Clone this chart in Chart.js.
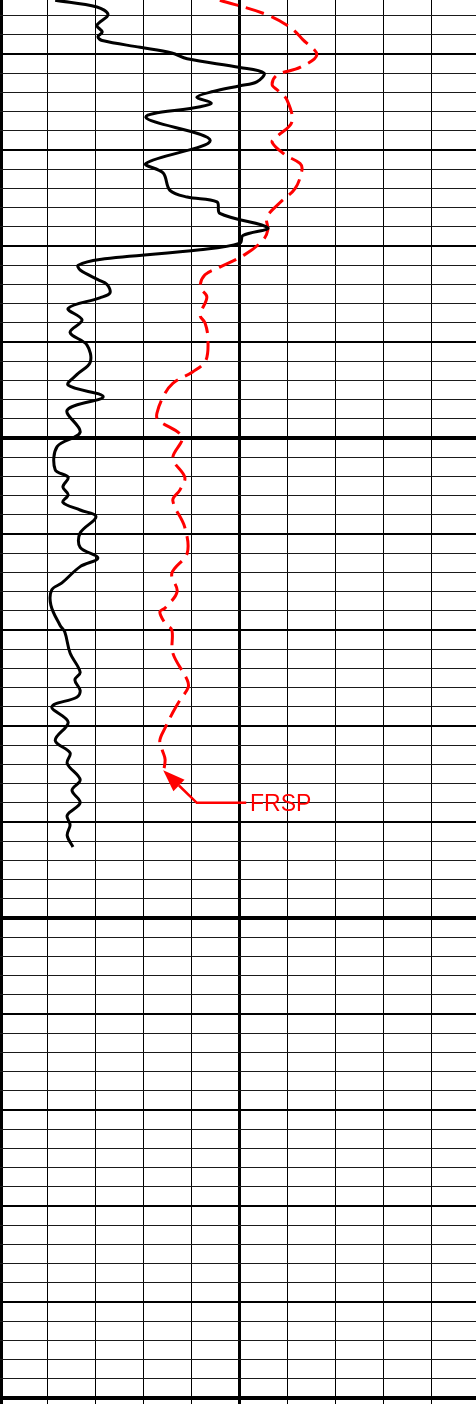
<!DOCTYPE html>
<html>
<head>
<meta charset="utf-8">
<script src="https://cdn.jsdelivr.net/npm/chart.js@4.4.1/dist/chart.umd.min.js"></script>
<style>
  html, body { margin: 0; padding: 0; background: #fff; overflow: hidden; }
  #wrap { position: relative; width: 476px; height: 1404px; }
</style>
</head>
<body>
<div id="wrap"><canvas id="logChart"></canvas></div>
<script>
// --- escalas del registro (track) ---
const X_MIN = 0;
const X_MAX = 99.17;          // la pista se corta un poco antes de 100
const X_STEP = 10;
const DEPTH_TOP = 5004.375;
const DEPTH_BOTTOM = 5150.625;
const DEPTH_STEP = 2;

// --- curva negra (sólida) ---
const blackDepth = [
  5004.4, 5005.1, 5005.9, 5007.0, 5007.7, 5008.2, 5008.6, 5009.3, 5009.9, 5010.5,
  5011.4, 5012.0, 5012.9, 5013.3, 5013.9, 5014.5, 5015.1, 5015.5, 5016.6, 5019.0,
  5021.4, 5022.4, 5024.2, 5024.9, 5025.4, 5026.6, 5028.1, 5028.9, 5029.7, 5030.4,
  5031.4, 5032.0, 5032.5, 5033.5, 5034.0, 5034.9, 5035.4, 5036.5, 5037.7, 5039.0,
  5040.3, 5042.1, 5043.4, 5044.5, 5045.7, 5047.1, 5049.4, 5050.9, 5053.3, 5054.1,
  5055.1, 5055.9, 5056.7, 5057.5, 5058.2, 5059.9, 5061.4, 5062.5, 5063.4, 5065.1,
  5065.8, 5067.4, 5069.5, 5070.2, 5072.4, 5074.4, 5075.2, 5076.3, 5077.0, 5078.0,
  5079.6, 5081.5, 5082.8, 5083.9, 5085.6, 5086.7, 5088.0, 5089.3, 5090.3, 5091.4,
  5092.6
];
const blackValues = [
  11.5, 20.2, 22.5, 20.2, 21.3, 20.4, 21.3, 29.2, 35.8, 39.0,
  50.0, 55.0, 53.5, 50.0, 44.4, 41.0, 44.0, 41.7, 30.4, 43.8,
  30.4, 34.0, 35.4, 39.0, 45.2, 45.8, 55.8, 50.6, 50.0, 41.7,
  20.8, 16.3, 16.7, 20.4, 22.3, 22.9, 20.8, 14.2, 17.1, 14.6,
  18.1, 18.8, 16.0, 14.2, 21.5, 14.0, 16.7, 11.9, 11.5, 14.2,
  13.1, 14.2, 13.1, 16.7, 20.0, 16.7, 16.7, 20.4, 16.7, 12.9,
  10.8, 10.6, 12.5, 13.5, 14.6, 16.7, 15.6, 16.7, 16.0, 10.8,
  14.2, 11.5, 14.6, 14.0, 16.7, 15.0, 16.7, 14.0, 14.6, 14.0,
  15.2
];

// --- curva roja FRSP (discontinua) ---
const frspDepth = [
  5004.4, 5005.9, 5007.2, 5008.5, 5010.1, 5011.4, 5012.2, 5013.2, 5013.8, 5014.8,
  5017.1, 5018.6, 5019.2, 5020.5, 5021.4, 5022.1, 5024.0, 5025.5, 5027.0, 5028.3,
  5029.4, 5030.9, 5032.2, 5033.0, 5034.3, 5035.3, 5037.2, 5038.0, 5039.5, 5041.9,
  5043.1, 5044.3, 5045.7, 5047.4, 5048.1, 5049.9, 5052.1, 5054.1, 5055.4, 5056.5,
  5059.3, 5062.0, 5064.1, 5066.0, 5067.7, 5068.1, 5069.3, 5070.0, 5072.4, 5075.2,
  5076.0, 5077.3, 5078.6, 5080.2, 5081.5, 5082.5, 5083.5, 5084.9
];
const frspValues = [
  45.8, 55.6, 60.4, 63.1, 66.0, 62.5, 57.7, 56.7, 57.9, 59.8,
  60.8, 57.7, 56.7, 59.4, 62.5, 62.9, 61.5, 58.3, 55.6, 55.8,
  54.8, 51.0, 45.8, 42.7, 41.7, 43.1, 41.7, 42.7, 43.3, 42.9,
  40.2, 36.0, 34.0, 32.7, 32.9, 37.9, 36.0, 38.5, 37.5, 36.0,
  38.5, 39.0, 35.8, 36.9, 34.4, 33.3, 34.4, 35.8, 36.0, 39.0,
  39.2, 37.5, 36.0, 34.4, 33.3, 33.8, 34.4, 34.0
];

// --- flecha y etiqueta ---
const arrowX = [51.3, 41.0, 34.0];          // extremo, codo, punta
const arrowDepth = [5088.0, 5088.0, 5084.6];
const labelText = 'FRSP';
const labelX = 52.1;
const labelDepth = 5088.4;

function toPoints(xs, ds) {
    return xs.map((v, i) => ({ x: v, y: ds[i] }));
}

function stepTicks(min, max, step) {
    const out = [];
    for (let v = Math.ceil(min / step) * step; v <= max + 1e-9; v += step) {
        out.push({ value: Math.round(v * 1000) / 1000 });
    }
    return out;
}

// --- plugin: flecha roja con texto ---
const arrowPlugin = {
    id: 'frspArrow',
    afterDatasetsDraw(chart) {
        const { ctx, scales: { x, y } } = chart;
        const px = arrowX.map(v => x.getPixelForValue(v));
        const py = arrowDepth.map(v => y.getPixelForValue(v));
        const tipX = px[2], tipY = py[2];
        const ang = Math.atan2(tipY - py[1], tipX - px[1]);
        const headLen = 22, headW = 8;
        const baseX = tipX - Math.cos(ang) * headLen;
        const baseY = tipY - Math.sin(ang) * headLen;

        ctx.save();
        ctx.strokeStyle = '#ff0000';
        ctx.fillStyle = '#ff0000';
        ctx.lineWidth = 2.5;
        ctx.beginPath();
        ctx.moveTo(px[0], py[0]);
        ctx.lineTo(px[1], py[1]);
        ctx.lineTo(baseX, baseY);
        ctx.stroke();

        ctx.beginPath();
        ctx.moveTo(tipX, tipY);
        ctx.lineTo(baseX + Math.sin(ang) * headW, baseY - Math.cos(ang) * headW);
        ctx.lineTo(baseX - Math.sin(ang) * headW, baseY + Math.cos(ang) * headW);
        ctx.closePath();
        ctx.fill();

        ctx.font = '23px "Liberation Sans", Arial, sans-serif';
        ctx.textBaseline = 'alphabetic';
        ctx.textAlign = 'left';
        ctx.fillText(labelText, x.getPixelForValue(labelX), y.getPixelForValue(labelDepth) + 4);
        ctx.restore();
    }
};

document.addEventListener('DOMContentLoaded', function() {
    const canvas = document.getElementById('logChart');

    new Chart(canvas, {
        type: 'scatter',
        data: {
            datasets: [
                {
                    label: 'Curva',
                    data: toPoints(blackValues, blackDepth),
                    showLine: true,
                    borderColor: '#000000',
                    borderWidth: 3,
                    pointRadius: 0,
                    tension: 0.35
                },
                {
                    label: 'FRSP',
                    data: toPoints(frspValues, frspDepth),
                    showLine: true,
                    borderColor: '#ff0000',
                    borderWidth: 3,
                    borderDash: [19, 8],
                    pointRadius: 0,
                    tension: 0.35
                }
            ]
        },
        options: {
            responsive: true,
            maintainAspectRatio: false,
            animation: false,
            layout: { padding: 0 },
            plugins: {
                legend: { display: false },
                tooltip: { enabled: false }
            },
            scales: {
                x: {
                    type: 'linear',
                    position: 'top',
                    min: X_MIN,
                    max: X_MAX,
                    afterBuildTicks: (s) => { s.ticks = stepTicks(X_MIN, X_MAX, X_STEP); },
                    ticks: { display: false },
                    border: { display: false },
                    grid: {
                        drawTicks: false,
                        color: '#000',
                        lineWidth: (c) => {
                            const v = c.tick ? c.tick.value : 0;
                            if (v === 0) return 5;
                            if (v === 50) return 3;
                            return 1;
                        }
                    }
                },
                y: {
                    type: 'linear',
                    reverse: true,
                    min: DEPTH_TOP,
                    max: DEPTH_BOTTOM,
                    afterBuildTicks: (s) => { s.ticks = stepTicks(DEPTH_TOP, DEPTH_BOTTOM, DEPTH_STEP); },
                    ticks: { display: false },
                    border: { display: false },
                    grid: {
                        drawTicks: false,
                        color: (c) => {
                            const v = c.tick ? c.tick.value : 0;
                            return (v % 10 === 0) ? '#000' : '#1a1a1a';
                        },
                        lineWidth: (c) => {
                            const v = c.tick ? c.tick.value : 0;
                            if (v % 50 === 0) return 4;
                            if (v % 10 === 0) return 2;
                            return 1;
                        }
                    }
                }
            }
        },
        plugins: [arrowPlugin]
    });
});
</script>
</body>
</html>
